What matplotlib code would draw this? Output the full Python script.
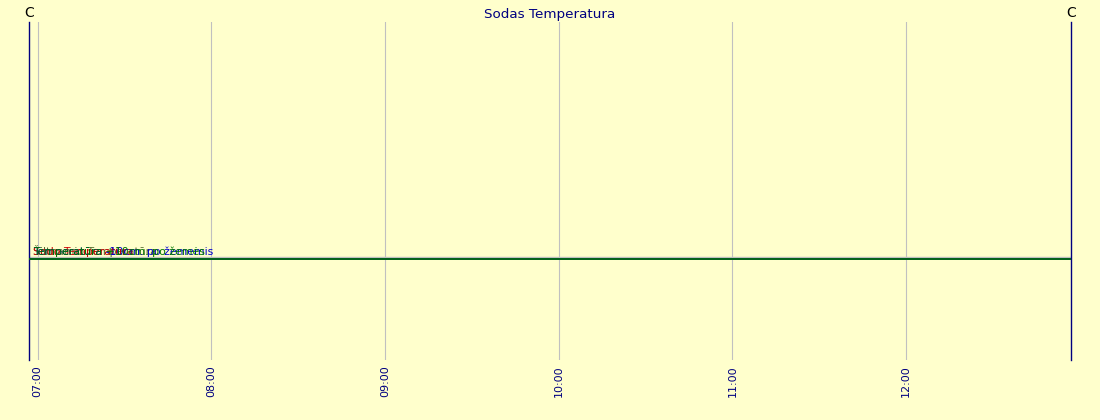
import numpy as np
import matplotlib
matplotlib.use("Agg")
import matplotlib.pyplot as plt
import matplotlib.dates as mdates
from datetime import datetime

# data: flat readings across the morning window
times = ["06:57", "07:57", "08:57", "09:57", "10:57", "11:57", "12:57"]
series_names = ["Šiltnamio Temperatūra", "Sodo Temperatūra",
                "Temperatūra -10cm. po žememis", "Temperatūra +10cm. po žemės"]
series_values = [
    [0, 0, 0, 0, 0, 0, 0],
    [0, 0, 0, 0, 0, 0, 0],
    [0, 0, 0, 0, 0, 0, 0],
    [0, 0, 0, 0, 0, 0, 0],
]
series_colors = ["#556B2F", "#CC0000", "#0000CC", "#007700"]
tick_times = ["07:00", "08:00", "09:00", "10:00", "11:00", "12:00"]

bg = "#FFFFCC"
navy = "#000080"

def to_dt(s):
    h, m = s.split(":")
    return datetime(2024, 1, 1, int(h), int(m))

x = [to_dt(t) for t in times]

fig = plt.figure(figsize=(11, 4.2), dpi=100, facecolor=bg)
ax = fig.add_axes([29 / 1100, 60 / 420, 1042 / 1100, 338 / 420], facecolor=bg)

ax.axhline(0.06, color="#C0C0C0", lw=1, zorder=1)
for name, vals, col in zip(series_names, series_values, series_colors):
    ax.plot(x, np.array(vals) - 0.02, color=col, lw=1.2, zorder=3)
    ax.annotate(name, (x[0], vals[0]), xytext=(3, 1.5), textcoords="offset points",
                color=col, fontsize=7.8, va="bottom", ha="left", zorder=4)

ax.set_ylim(-3.0, 7.0)
ax.set_xlim(x[0], x[-1])
ax.set_yticks([])
ax.set_xticks([to_dt(t) for t in tick_times])
ax.xaxis.set_major_formatter(mdates.DateFormatter("%H:%M"))
ax.tick_params(axis="x", length=0, labelsize=8, labelcolor=navy, labelrotation=90, pad=4)
ax.grid(axis="x", color="#C0C0C0", lw=0.8)

for side in ["top", "bottom"]:
    ax.spines[side].set_visible(False)
for side in ["left", "right"]:
    ax.spines[side].set_color(navy)
    ax.spines[side].set_linewidth(1)

ax.set_title("Sodas Temperatura", color=navy, fontsize=9.7, pad=3)
fig.text(29 / 1100, 1 - 13 / 420, "C", ha="center", va="center", fontsize=10, color="black")
fig.text(1071 / 1100, 1 - 13 / 420, "C", ha="center", va="center", fontsize=10, color="black")

fig.savefig("out.png", dpi=100, facecolor=bg)
